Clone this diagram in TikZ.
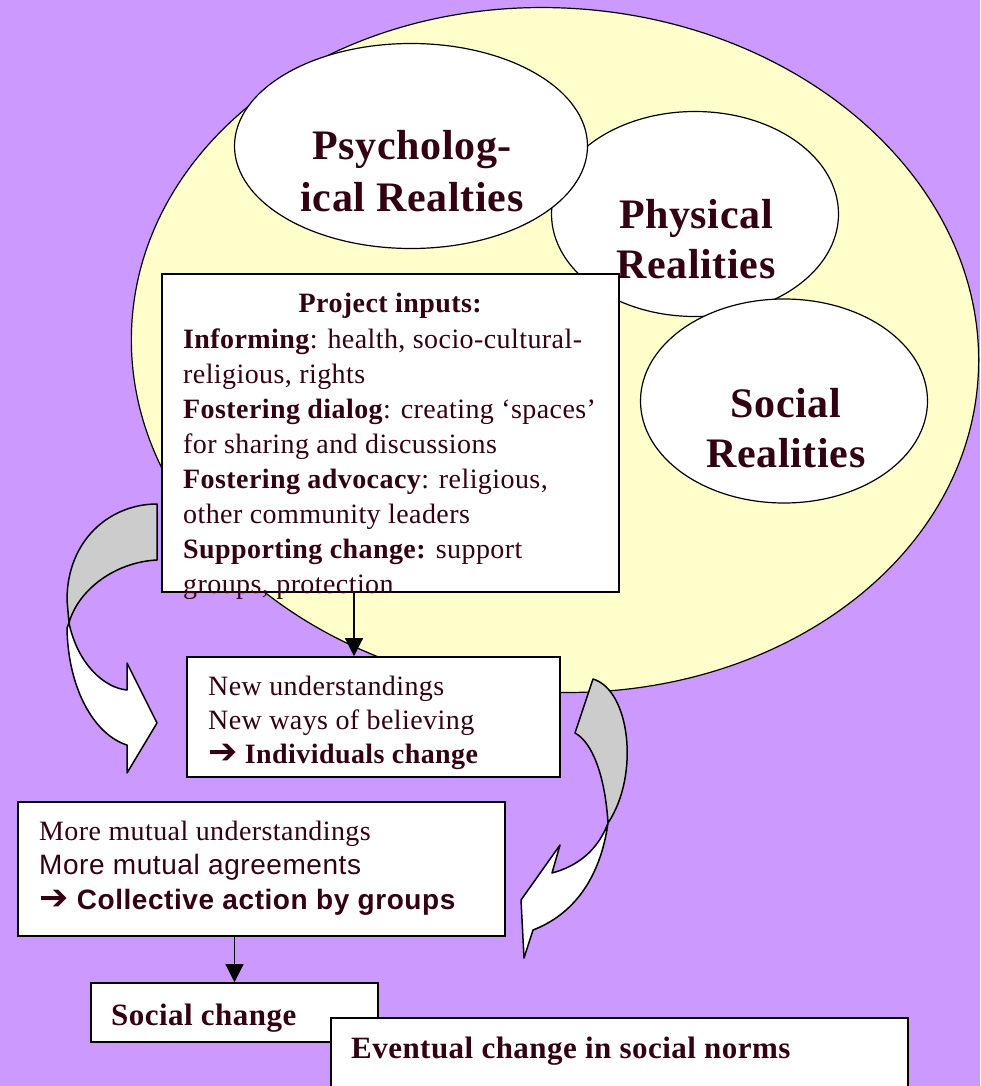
\documentclass[tikz,border=0pt]{standalone}
\usepackage{graphicx}
\usepackage{fontspec}
\setmainfont[LetterSpace=1.5]{Liberation Serif}
\setsansfont[LetterSpace=2]{Liberation Sans}
\newfontfamily\arrowfont{DejaVu Sans}
\usetikzlibrary{arrows.meta,shapes.geometric}

\definecolor{lilac}{RGB}{204,153,255}
\definecolor{paleyellow}{RGB}{255,255,204}
\definecolor{twistgray}{RGB}{204,204,204}
\definecolor{inkmaroon}{RGB}{51,0,17}
\newcommand{\heavyarrow}{\scalebox{1.25}{\arrowfont\bfseries ➔}}

\begin{document}
\begin{tikzpicture}[x=1pt,y=-1pt,
    realm/.style={ellipse,draw,fill=white,line width=1.2pt,inner sep=0pt},
    panel/.style={draw,fill=white,line width=1.6pt,inner sep=0pt},
    lbl/.style={text=inkmaroon,inner sep=0pt},
    conn/.style={line width=1.3pt,-{Triangle[width=18pt,length=18pt]}},
    curl/.style={draw,line width=1.5pt,line join=round}]
    \fill[lilac] (0,0) rectangle (980,1086);
    \useasboundingbox (0,0) rectangle (980,1086);
    \draw[fill=paleyellow,line width=1.2pt,rotate around={-4:(555,350)}] (555,350) ellipse [x radius=424,y radius=342];

    \node[realm,minimum width=287pt,minimum height=205pt] (phys) at (695,214) {};
    \node[realm,minimum width=353pt,minimum height=205pt] (psych) at (411,146) {};
    \node[realm,minimum width=287pt,minimum height=204pt] (soc) at (784,401) {};
    \node[lbl,anchor=base] (psychtxt) at (412,160)
        {\parbox[t]{320pt}{\centering\fontsize{42}{52}\selectfont\bfseries Psycholog-\\ical Realties}};
    \node[lbl,anchor=base] (phystxt) at (696,228)
        {\parbox[t]{260pt}{\centering\fontsize{42}{50}\selectfont\bfseries Physical\\Realities}};
    \node[lbl,anchor=base] (soctxt) at (786,417)
        {\parbox[t]{260pt}{\centering\fontsize{42}{50}\selectfont\bfseries Social\\Realities}};

    \node[panel,minimum width=457pt,minimum height=318pt] (inputs) at (390.5,433) {};
    \node[lbl,anchor=base west] (inputstxt) at (183,312)
        {\parbox[t]{436pt}{\raggedright\fontsize{28}{35}\selectfont
        \makebox[414pt]{\bfseries Project inputs:}\\[1pt]
        \textbf{Informing}: health, socio-cultural-\\
        religious, rights\\
        \textbf{Fostering dialog}: creating ‘spaces’\\
        for sharing and discussions\\
        \textbf{Fostering advocacy}: religious,\\
        other community leaders\\
        \textbf{Supporting change:} support\\
        groups, protection}};

    \draw[curl,fill=twistgray] (157,504) .. controls (110,504) and (67,540) .. (67,600)
        -- (69,623) .. controls (78,590) and (115,562) .. (157,560) -- cycle;
    \draw[curl,fill=white] (69,623) -- (67,628) .. controls (68,690) and (95,735) .. (127,745)
        -- (127,773) -- (157,723) -- (127,663) -- (127,690)
        .. controls (105,688) and (78,665) .. (69,623) -- cycle;

    \draw[curl,fill=twistgray] (593,679) .. controls (630,690) and (640,775) .. (608,823)
        .. controls (605,775) and (592,742) .. (575,733) -- cycle;
    \draw[curl,fill=white] (608,823) .. controls (598,850) and (578,866) .. (552,873)
        -- (560,845) -- (521,900) -- (524,958) -- (533,930)
        .. controls (572,915) and (600,880) .. (608,823) -- cycle;

    \node[panel,minimum width=373pt,minimum height=120pt] (newund) at (373.5,717) {};
    \node[lbl,anchor=base west] (newundtxt) at (208,695)
        {\parbox[t]{350pt}{\fontsize{28}{34}\selectfont
        New understandings\\
        New ways of believing\\
        \textbf{\heavyarrow\ Individuals change}}};
    \draw[conn] ([xshift=-36.5pt]inputs.south) -- ([xshift=-19.5pt]newund.north);

    \node[panel,minimum width=487pt,minimum height=134pt] (mutual) at (261.5,869) {};
    \node[lbl,anchor=base west] (mutualtxt) at (39,840)
        {\parbox[t]{460pt}{\fontsize{28}{34.5}\selectfont
        More mutual understandings\\
        \sffamily More mutual agreements\\
        \bfseries\heavyarrow\ Collective action by groups}};

    \node[panel,minimum width=287pt,minimum height=59pt] (socch) at (234.5,1012.5) {};
    \node[lbl,anchor=base west] (sochtxt) at (111,1025)
        {\fontsize{31}{36}\selectfont\bfseries Social change};
    \draw[conn] (mutual.south -| socch.north) -- (socch.north);

    \node[panel,minimum width=577pt,minimum height=100pt,anchor=north west] (eventual) at (330,1017) {};
    \node[lbl,anchor=base west] (eventualtxt) at (351,1058)
        {\fontsize{31}{36}\selectfont\bfseries Eventual change in social norms};
\end{tikzpicture}
\end{document}
